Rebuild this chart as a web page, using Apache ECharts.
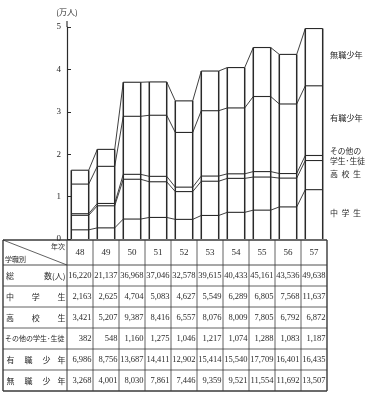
<!DOCTYPE html>
<html><head><meta charset="utf-8">
<script src="https://cdn.jsdelivr.net/npm/echarts@6/dist/echarts.min.js"></script>
<style>html,body{margin:0;padding:0;background:#fff}#c{width:374px;height:397px}</style>
</head><body><div id="c"></div>
<script>
// ---- data (人) ----
const years = ['48','49','50','51','52','53','54','55','56','57'];
const totals = [16220,21137,36968,37046,32578,39615,40433,45161,43536,49638];
const chugakusei = [2163,2625,4704,5083,4627,5549,6289,6805,7568,11637];
const kokosei = [3421,5207,9387,8416,6557,8076,8009,7805,6792,6872];
const sonota = [382,548,1160,1275,1046,1217,1074,1288,1083,1187];
const yushoku = [6986,8756,13687,14411,12902,15414,15540,17709,16401,16435];
const mushoku = [3268,4001,8030,7861,7446,9359,9521,11554,11692,13507];
const yTicks = [0,1,2,3,4,5];

// ---- layout constants ----
const GL = 67, GR = 47, GT = 27, GB = 158;
const W = 374, H = 397;
const INK = '#2a2a2a';
const JP = '"Noto Sans CJK JP", sans-serif';
const SERIF = '"Liberation Serif", "DejaVu Serif", serif';

// cumulative stacks in 万人
const layers = [chugakusei, kokosei, sonota, yushoku, mushoku];
const cum = years.map((_, i) => {
  let s = 0; return layers.map(a => (s += a[i]) / 10000);
});
const seriesData = years.map((_, i) => {
  const prev = i > 0 ? cum[i - 1] : [0,0,0,0,0];
  return [i].concat(cum[i], prev);
});

function seg(x1, y1, x2, y2, w) {
  return { type: 'line', shape: { x1, y1, x2, y2 }, style: { stroke: INK, lineWidth: w } };
}

function renderItem(params, api) {
  const i = api.value(0);
  const band = api.size([1, 0])[0];
  const half = band * 0.335;
  const base = api.coord([i, 0]);
  const xl = base[0] - half, xr = base[0] + half;
  const c = [1,2,3,4,5].map(k => api.value(k));
  const topY = api.coord([i, c[4]])[1];
  const ch = [];
  ch.push(seg(xl, base[1], xl, topY, 1.5));
  ch.push(seg(xr, base[1], xr, topY, 1.5));
  c.forEach(v => { const y = api.coord([i, v])[1]; ch.push(seg(xl, y, xr, y, 1.1)); });
  if (i > 0) {
    const pxr = api.coord([i - 1, 0])[0] + half;
    for (let k = 0; k < 5; k++) {
      const py = api.coord([i - 1, api.value(6 + k)])[1];
      const y = api.coord([i, c[k]])[1];
      ch.push(seg(pxr, py, xl, y, 0.9));
    }
  }
  return { type: 'group', children: ch };
}

// ---- table + labels via graphic ----
const g = [];
function txt(x, y, s, o) {
  g.push({ type: 'text', x, y, silent: true, style: Object.assign({
    text: s, fill: INK, fontSize: 8, fontFamily: JP, textAlign: 'left', textVerticalAlign: 'middle'
  }, o || {}) });
}
function ln(x1, y1, x2, y2, w) {
  g.push({ type: 'line', silent: true, shape: { x1, y1, x2, y2 }, style: { stroke: '#3a3a3a', lineWidth: w } });
}
const TL = 3, LR = GL, colW = (W - GL - GR) / years.length, TR = GL + colW * years.length;
const TT = 240, HDR = 265, RH = 21;
const TB = HDR + RH * 6;
// axis extension above 5
ln(GL, 21, GL, GT, 1.2);
// table grid
ln(TL, TT, TR, TT, 1.4);
ln(TL, TB, TR, TB, 1.4);
ln(TL, TT, TL, TB, 1.4);
ln(TR, TT, TR, TB, 1.4);
ln(LR, TT, LR, TB, 1);
for (let k = 1; k < years.length; k++) ln(GL + colW * k, TT, GL + colW * k, TB, 0.8);
ln(TL, HDR, TR, HDR, 0.9);
for (let r = 1; r < 6; r++) ln(TL, HDR + RH * r, TR, HDR + RH * r, 0.8);
ln(TL, TT, LR, HDR, 0.8);
txt(LR - 2, 246.5, '年次', { textAlign: 'right', fontSize: 7 });
txt(TL + 2, 259, '学職別', { fontSize: 7 });
years.forEach((y, i) => txt(GL + colW * (i + 0.5), 253, y, { textAlign: 'center', fontFamily: SERIF, fontSize: 9 }));

const rows = [totals, chugakusei, kokosei, sonota, yushoku, mushoku];
rows.forEach((arr, r) => {
  const cy = HDR + RH * r + RH / 2;
  arr.forEach((v, i) => txt(GL + colW * (i + 1) - 1.5, cy, v.toLocaleString('en-US'),
    { textAlign: 'right', fontFamily: SERIF, fontSize: 8.5 }));
});
// row labels
const ry = r => HDR + RH * r + RH / 2;
txt(6, ry(0), '総'); txt(LR - 1.5, ry(0), '数(人)', { textAlign: 'right' });
[['中','学','生'], ['高','校','生']].forEach((cs, k) => {
  txt(6, ry(k + 1), cs[0]); txt((6 + LR - 1.5) / 2, ry(k + 1), cs[1], { textAlign: 'center' });
  txt(LR - 1.5, ry(k + 1), cs[2], { textAlign: 'right' });
});
txt(5, ry(3), 'その他の学生･生徒', { fontSize: 7 });
[['有','職','少','年'], ['無','職','少','年']].forEach((cs, k) => {
  [6.5, 24.5, 42.5].forEach((x, j) => txt(x, ry(k + 4), cs[j]));
  txt(LR - 1.5, ry(k + 4), cs[3], { textAlign: 'right' });
});
// right-side legend labels
txt(330, 55, '無職少年', { fontSize: 8.2 });
txt(330, 118, '有職少年', { fontSize: 8.2 });
txt(330, 151, 'その他の', { fontSize: 7.8 });
txt(330, 161, '学生･生徒', { fontSize: 7.8 });
['高','校','生'].forEach((c, j) => txt(330 + j * 11.5, 174, c, { fontSize: 8 }));
['中','学','生'].forEach((c, j) => txt(330 + j * 11.5, 213, c, { fontSize: 8 }));

const chart = echarts.init(document.getElementById('c'), null, { renderer: 'canvas' });
chart.setOption({
  animation: false,
  backgroundColor: '#fff',
  grid: { left: GL, right: GR, top: GT, bottom: GB, containLabel: false },
  xAxis: {
    type: 'category', data: years, boundaryGap: true,
    axisLine: { show: false }, axisTick: { show: false }, axisLabel: { show: false }, splitLine: { show: false }
  },
  yAxis: {
    type: 'value', min: yTicks[0], max: yTicks[yTicks.length - 1], interval: 1,
    name: '(万人)', nameLocation: 'end', nameGap: 11,
    nameTextStyle: { fontSize: 8, color: INK, fontFamily: JP, align: 'center' },
    axisLine: { show: true, lineStyle: { color: INK, width: 1.2 } },
    axisTick: { show: true, inside: true, length: 4, lineStyle: { color: INK, width: 1 } },
    axisLabel: { fontSize: 9, color: INK, fontFamily: SERIF, margin: 6 },
    splitLine: { show: false }
  },
  series: [{
    type: 'custom', name: '学職別', renderItem, data: seriesData,
    encode: { x: 0, y: [1,2,3,4,5] }, clip: false, silent: true
  }],
  graphic: g
});
</script>
</body></html>
